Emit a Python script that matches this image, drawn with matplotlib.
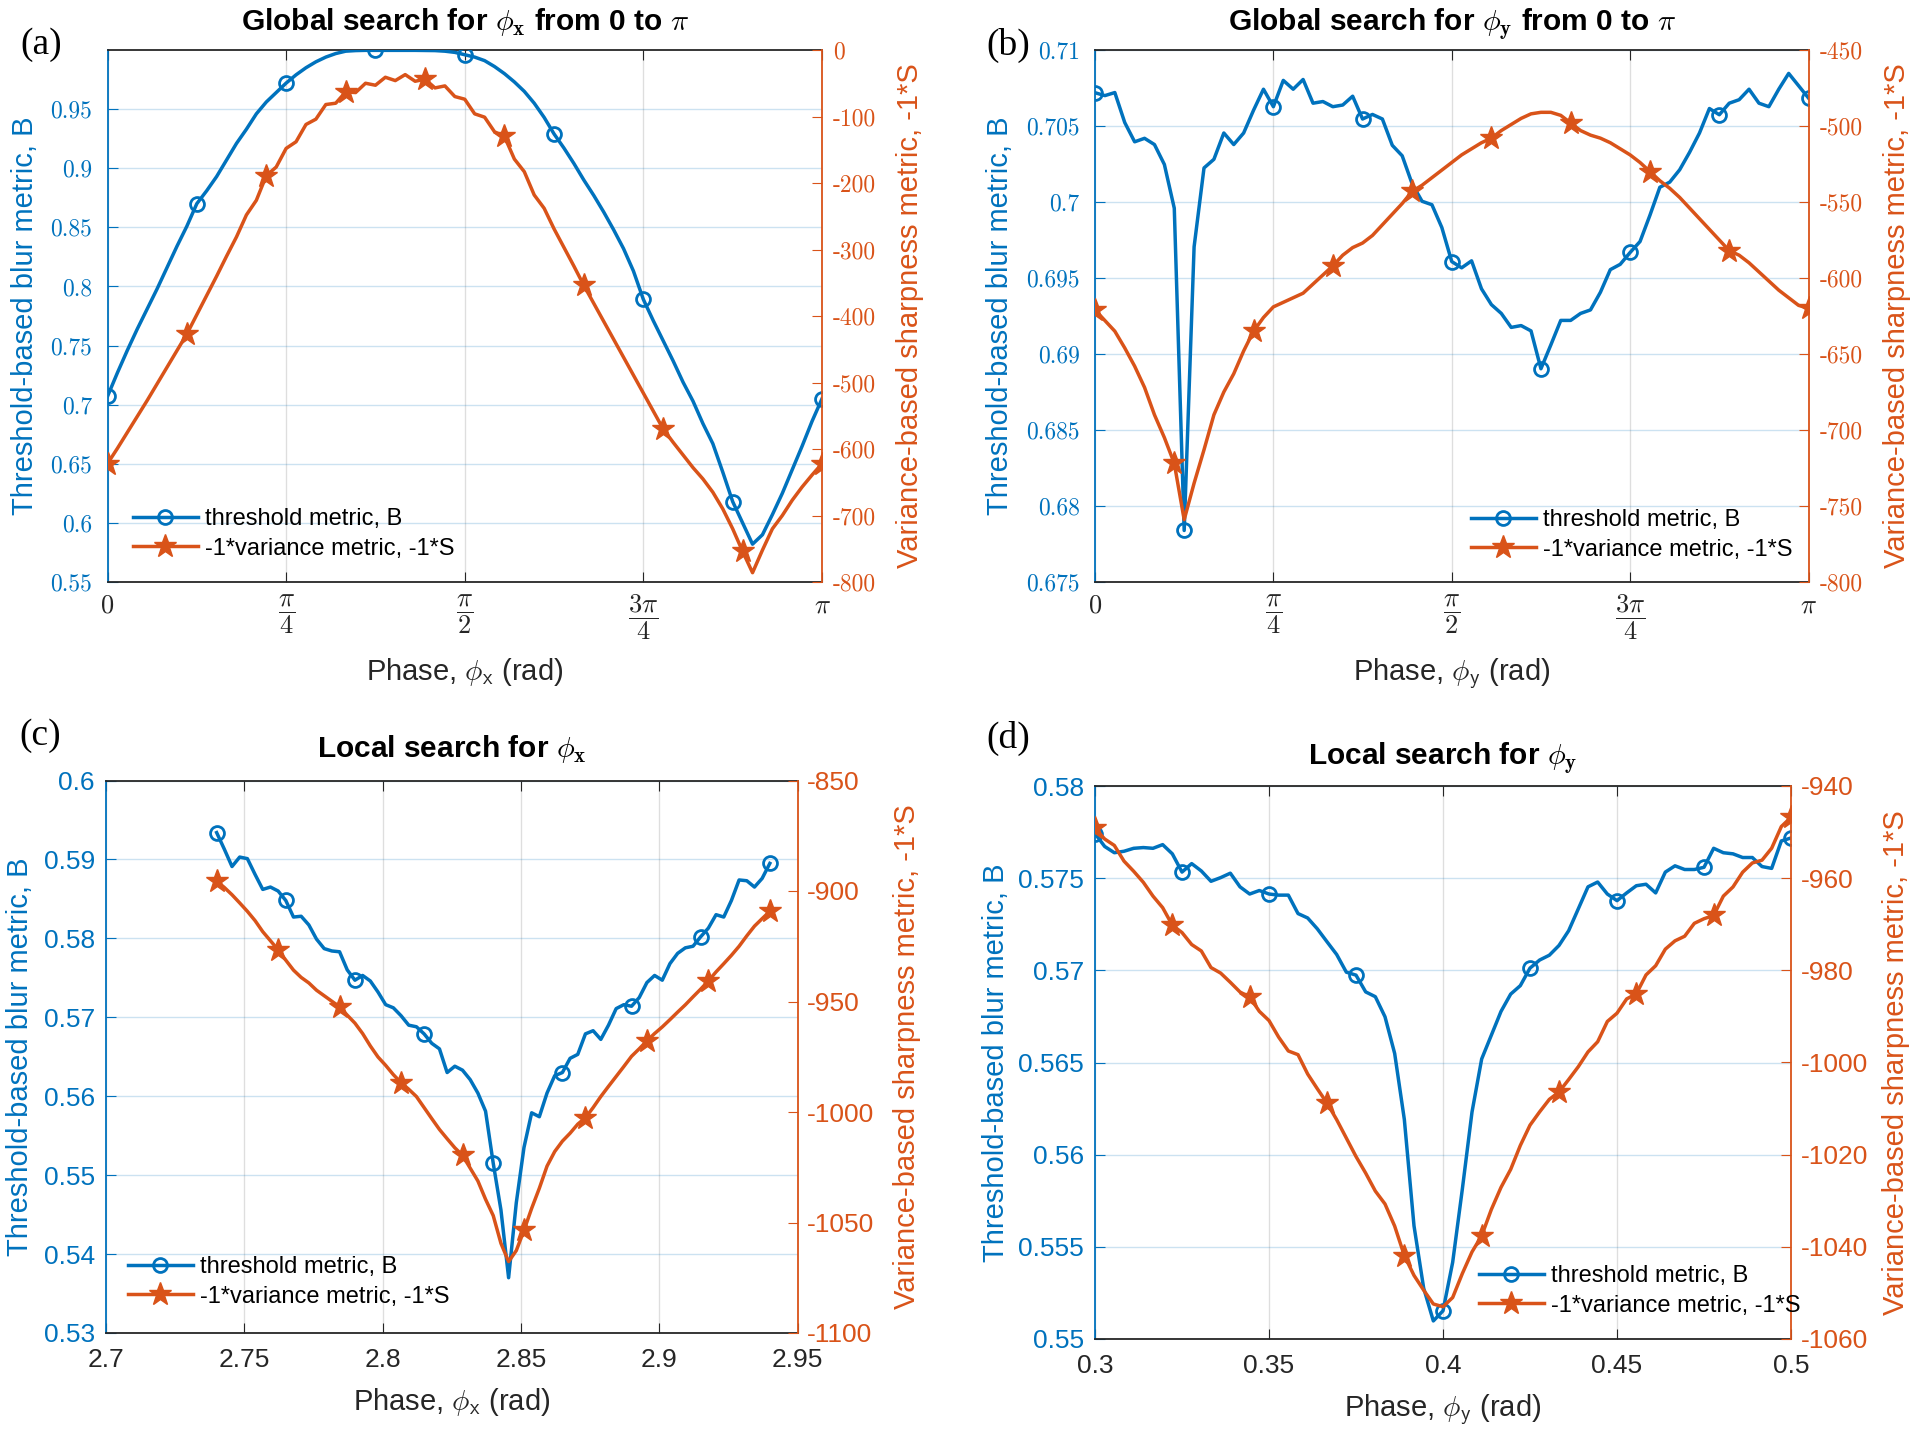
import numpy as np
import matplotlib
matplotlib.use('Agg')
import matplotlib.pyplot as plt
from matplotlib.lines import Line2D

plt.rcParams['font.family'] = ['Liberation Sans', 'DejaVu Sans']
plt.rcParams['mathtext.fontset'] = 'cm'

BLUE = '#0072BD'
ORANGE = '#D95319'
DARK = '#262626'
W, H = 1920, 1442

# ---- data ----
# (a) global search phi_x, 0..pi
a_blue = [0.707, 0.727, 0.746, 0.764, 0.781, 0.798, 0.816, 0.834, 0.851, 0.870,
          0.881, 0.893, 0.907, 0.921, 0.933, 0.946, 0.956, 0.964, 0.972, 0.979,
          0.985, 0.990, 0.994, 0.997, 0.999, 0.9995, 0.9997, 0.9997, 0.9997, 0.9997,
          0.9997, 0.9997, 0.9996, 0.9995, 0.999, 0.998, 0.996, 0.994, 0.991, 0.986,
          0.980, 0.973, 0.965, 0.955, 0.943, 0.929, 0.917, 0.904, 0.890, 0.877,
          0.863, 0.848, 0.832, 0.813, 0.789, 0.771, 0.754, 0.737, 0.719, 0.703,
          0.684, 0.667, 0.643, 0.618, 0.600, 0.582, 0.590, 0.607, 0.625, 0.645,
          0.665, 0.686, 0.705]
a_red = [-622, -599, -575, -551, -527, -502, -477, -452, -427, -398,
         -369, -340, -310, -281, -248, -226, -189, -176, -148, -138,
         -112, -104, -82, -80, -63, -64, -50, -53, -41, -46,
         -37, -47, -44, -57, -54, -70, -74, -96, -101, -123,
         -130, -164, -183, -218, -238, -269, -297, -325, -354, -381,
         -408, -435, -462, -489, -516, -543, -570, -590, -609, -628,
         -645, -665, -690, -720, -754, -786, -752, -720, -700, -677,
         -657, -639, -622]

# (b) global search phi_y, 0..pi
b_blue = [0.70719, 0.7070, 0.7072, 0.70523, 0.70396, 0.70419, 0.70378, 0.70247, 0.69959, 0.67839,
          0.69705, 0.70224, 0.70281, 0.70454, 0.70378, 0.70454, 0.70604, 0.70742, 0.70627, 0.70800,
          0.70742, 0.70806, 0.70650, 0.70661, 0.70627, 0.70638, 0.70696, 0.70546, 0.70576, 0.70546,
          0.70373, 0.70304, 0.70120, 0.70005, 0.69982, 0.69832, 0.69608, 0.69567, 0.69613, 0.69429,
          0.69325, 0.69267, 0.69175, 0.69187, 0.69152, 0.68903, 0.69060, 0.69221, 0.69221, 0.69267,
          0.69290, 0.69406, 0.69555, 0.69590, 0.69668, 0.69740, 0.69913, 0.70097, 0.70131, 0.70212,
          0.70327, 0.70454, 0.70615, 0.70574, 0.70650, 0.70673, 0.70742, 0.70650, 0.70627, 0.70742,
          0.70846, 0.70765, 0.70684]
b_red = [-621, -628, -635, -646, -658, -672, -690, -705, -722, -759,
         -735, -713, -690, -675, -663, -648, -635, -626, -619, -616,
         -613, -610, -604, -598, -592, -585, -580, -577, -572, -565,
         -558, -551, -543, -539, -534, -529, -524, -519, -515, -511,
         -508, -503, -499, -495, -492, -491, -491, -493, -498, -503,
         -506, -508, -511, -515, -519, -524, -530, -536, -541, -547,
         -554, -561, -568, -575, -582, -585, -590, -596, -602, -608,
         -613, -618, -620]

# (c) local search phi_x, 2.74..2.94
c_blue = [0.5934, 0.5913, 0.5891, 0.5903, 0.5901, 0.5881, 0.5862, 0.5865, 0.5860, 0.5848,
          0.5827, 0.5828, 0.5817, 0.5799, 0.5787, 0.5784, 0.5783, 0.5760, 0.5747, 0.5753,
          0.5746, 0.5732, 0.5716, 0.5712, 0.5702, 0.5690, 0.5688, 0.5679, 0.5667, 0.5660,
          0.5630, 0.5638, 0.5633, 0.5621, 0.5604, 0.5581, 0.5515, 0.5456, 0.5370, 0.5465,
          0.5535, 0.5579, 0.5574, 0.5604, 0.5626, 0.5630, 0.5648, 0.5653, 0.5679, 0.5683,
          0.5672, 0.5690, 0.5711, 0.5716, 0.5714, 0.5725, 0.5744, 0.5753, 0.5747, 0.5768,
          0.5781, 0.5788, 0.5790, 0.5802, 0.5813, 0.5830, 0.5827, 0.5848, 0.5874, 0.5873,
          0.5865, 0.5876, 0.5895]
c_red = [-895.5, -898.4, -901.7, -905.4, -909.2, -913.4, -918.4, -922.5, -926.6, -931.3,
         -935.8, -939.1, -941.6, -944.9, -947.4, -949.9, -952.4, -956.2, -959.8, -964.5,
         -970.1, -975.1, -978.9, -983.1, -986.7, -989.7, -993.0, -998.0, -1003.0, -1007.9,
         -1012.1, -1016.2, -1019.6, -1025.4, -1031.2, -1039.5, -1046.9, -1059.4, -1067.7, -1062.7,
         -1053.6, -1043.6, -1034.5, -1024.5, -1017.9, -1013.2, -1009.6, -1005.5, -1002.6, -998.0,
         -993.0, -988.4, -983.9, -979.4, -974.8, -971.4, -967.8, -964.5, -961.5, -958.2,
         -954.8, -951.5, -947.9, -944.4, -940.7, -936.6, -932.9, -929.1, -925.0, -920.3,
         -915.9, -912.5, -909.2]

# (d) local search phi_y, 0.3..0.5
d_blue = [0.57742, 0.57672, 0.57638, 0.57646, 0.57662, 0.57666, 0.57662, 0.57682, 0.57632, 0.57533,
          0.57579, 0.57539, 0.57483, 0.57503, 0.57527, 0.57453, 0.57414, 0.57433, 0.57414, 0.57408,
          0.57408, 0.57308, 0.57284, 0.57225, 0.57155, 0.57086, 0.56990, 0.56974, 0.56883, 0.56857,
          0.56748, 0.56549, 0.56191, 0.55614, 0.55276, 0.55098, 0.55153, 0.55416, 0.55813, 0.56231,
          0.56519, 0.56648, 0.56777, 0.56871, 0.56917, 0.57012, 0.57056, 0.57082, 0.57135, 0.57215,
          0.57334, 0.57453, 0.57479, 0.57414, 0.57378, 0.57420, 0.57459, 0.57467, 0.57420, 0.57533,
          0.57567, 0.57547, 0.57547, 0.57559, 0.57662, 0.57638, 0.57632, 0.57612, 0.57612, 0.57563,
          0.57553, 0.57702, 0.57718]
d_red = [-949.2, -951.5, -952.9, -956.3, -958.5, -960.9, -963.9, -966.4, -970.2, -971.8,
         -974.4, -975.8, -979.4, -980.6, -982.6, -984.7, -985.8, -988.9, -990.9, -994.5,
         -997.5, -998.3, -1002.5, -1005.7, -1008.8, -1012.4, -1016.4, -1020.4, -1024.0, -1027.9,
         -1030.7, -1035.5, -1041.9, -1046.2, -1049.4, -1052.4, -1053.0, -1051.0, -1045.8, -1041.1,
         -1037.6, -1031.9, -1027.1, -1023.2, -1018.0, -1013.6, -1010.7, -1008.0, -1006.4, -1003.7,
         -1000.9, -997.7, -995.5, -991.1, -989.3, -986.2, -985.1, -981.0, -979.0, -975.4,
         -973.6, -972.6, -969.8, -968.8, -968.1, -963.9, -961.9, -958.7, -956.7, -956.1,
         -953.5, -948.8, -946.8]

pi_ticks = [0, np.pi / 4, np.pi / 2, 3 * np.pi / 4, np.pi]
pi_labels = ['$0$', r'$\dfrac{\pi}{4}$', r'$\dfrac{\pi}{2}$', r'$\dfrac{3\pi}{4}$', r'$\pi$']

a_lticks = [0.55, 0.6, 0.65, 0.7, 0.75, 0.8, 0.85, 0.9, 0.95]
a_rticks = [-800, -700, -600, -500, -400, -300, -200, -100, 0]
b_lticks = [0.675, 0.68, 0.685, 0.69, 0.695, 0.7, 0.705, 0.71]
b_rticks = [-800, -750, -700, -650, -600, -550, -500, -450]
c_xticks = [2.7, 2.75, 2.8, 2.85, 2.9, 2.95]
c_lticks = [0.53, 0.54, 0.55, 0.56, 0.57, 0.58, 0.59, 0.6]
c_rticks = [-1100, -1050, -1000, -950, -900, -850]
d_xticks = [0.3, 0.35, 0.4, 0.45, 0.5]
d_lticks = [0.55, 0.555, 0.56, 0.565, 0.57, 0.575, 0.58]
d_rticks = [-1060, -1040, -1020, -1000, -980, -960, -940]

leg_labels = ['threshold metric, B', '-1*variance metric, -1*S']

fig = plt.figure(figsize=(W / 100, H / 100), dpi=100)


def fx(px):
    return px / W


def fy(py):
    return 1 - py / H


def fmt(v):
    s = ('%.3f' % v).rstrip('0').rstrip('.')
    return s


def panel(box, x, blue, red, xlim, ylim_l, ylim_r, xticks, xticklabels,
          lticks, rticks, serif, title, sub, tag, tag_xy, title_y, xlab_y,
          ylab_lx, ylab_rx, leg_xy):
    l, t, r, b = box
    ax = fig.add_axes([fx(l), fy(b), (r - l) / W, (b - t) / H])
    ax2 = ax.twinx()

    ax.plot(x, blue, color=BLUE, lw=2.5, marker='o', markevery=9, ms=10,
            mfc='none', mec=BLUE, mew=2, zorder=3)
    ax2.plot(x, red, color=ORANGE, lw=2.5, marker='*', markevery=8, ms=17,
             mfc=ORANGE, mec=ORANGE, mew=1, zorder=3)

    ax.set_xlim(xlim)
    ax.set_ylim(ylim_l)
    ax2.set_ylim(ylim_r)

    ax.grid(axis='x', color=DARK, alpha=0.15, lw=1)
    ax.grid(axis='y', color=BLUE, alpha=0.2, lw=1)

    for s in ['top', 'bottom']:
        ax.spines[s].set_color(DARK)
        ax2.spines[s].set_visible(False)
    ax.spines['left'].set_color(BLUE)
    ax.spines['right'].set_visible(False)
    ax2.spines['left'].set_visible(False)
    ax2.spines['right'].set_color(ORANGE)
    for sp in list(ax.spines.values()) + list(ax2.spines.values()):
        sp.set_linewidth(1.3)

    ax.set_xticks(xticks)
    ax.set_xticklabels(xticklabels)
    ax.set_yticks(lticks)
    ax.set_yticklabels([fmt(v) for v in lticks])
    ax2.set_yticks(rticks)
    ax2.set_yticklabels([fmt(v) for v in rticks])

    if serif:
        tfs = 17
        ax.tick_params(axis='x', direction='in', top=True, length=7, color=DARK,
                       labelcolor=DARK, labelsize=19, pad=8)
        ax.tick_params(axis='y', direction='in', length=7, colors=BLUE,
                       labelsize=tfs, pad=11)
        ax2.tick_params(axis='y', direction='in', length=7, colors=ORANGE,
                        labelsize=tfs, pad=8)
        for lab in ax.get_yticklabels() + ax2.get_yticklabels():
            lab.set_fontfamily('cmr10')
    else:
        tfs = 19
        ax.tick_params(axis='x', direction='in', top=True, length=7, color=DARK,
                       labelcolor=DARK, labelsize=tfs, pad=11)
        ax.tick_params(axis='y', direction='in', length=7, colors=BLUE,
                       labelsize=tfs, pad=8)
        ax2.tick_params(axis='y', direction='in', length=7, colors=ORANGE,
                        labelsize=tfs, pad=7)

    cx = (l + r) / 2
    cy = (t + b) / 2
    fig.text(fx(cx), fy(title_y), title, ha='center', va='baseline',
             fontsize=21.5, fontweight='bold', color='k')
    fig.text(fx(cx), fy(xlab_y), r'Phase, $\phi_{\mathsf{%s}}$ (rad)' % sub,
             ha='center', va='baseline', fontsize=21, color=DARK)
    fig.text(fx(ylab_lx), fy(cy), 'Threshold-based blur metric, B', rotation=90,
             ha='center', va='center', fontsize=21, color=BLUE)
    fig.text(fx(ylab_rx), fy(cy), 'Variance-based sharpness metric, -1*S',
             rotation=90, ha='center', va='center', fontsize=21, color=ORANGE)
    fig.text(fx(tag_xy[0]), fy(tag_xy[1]), tag, ha='center', va='center',
             fontsize=27, family='Liberation Serif', color='k')

    h1 = Line2D([], [], color=BLUE, lw=2.5, marker='o', ms=10, mfc='none',
                mec=BLUE, mew=2)
    h2 = Line2D([], [], color=ORANGE, lw=2.5, marker='*', ms=17, mfc=ORANGE,
                mec=ORANGE, mew=1)
    ax2.legend([h1, h2], leg_labels, loc='center left',
               bbox_to_anchor=(fx(leg_xy[0]), fy(leg_xy[1])),
               bbox_transform=fig.transFigure, frameon=False, fontsize=17,
               handlelength=2.75, handletextpad=0.3, labelspacing=0.3,
               borderpad=0, borderaxespad=0)
    return ax, ax2


xa = np.linspace(0, np.pi, len(a_blue))
xb = np.linspace(0, np.pi, len(b_blue))
xc = np.linspace(2.74, 2.94, len(c_blue))
xd = np.linspace(0.3, 0.5, len(d_blue))

panel((107.5, 50, 822, 582), xa, a_blue, a_red, (0, np.pi), (0.55, 1.0), (-800, 0),
      pi_ticks, pi_labels, a_lticks, a_rticks, True,
      r'Global search for $\phi_{\mathbf{x}}$ from 0 to $\pi$', 'x', '(a)', (41, 45),
      30, 680, 25, 910, (133, 534))
panel((1095, 50, 1808.5, 582), xb, b_blue, b_red, (0, np.pi), (0.675, 0.71), (-800, -450),
      pi_ticks, pi_labels, b_lticks, b_rticks, True,
      r'Global search for $\phi_{\mathbf{y}}$ from 0 to $\pi$', 'y', '(b)', (1008, 45),
      30, 680, 1000, 1897, (1471, 535))
panel((106, 780.5, 797.5, 1333), xc, c_blue, c_red, (2.7, 2.95), (0.53, 0.6), (-1100, -850),
      c_xticks, [fmt(v) for v in c_xticks], c_lticks, c_rticks, False,
      r'Local search for $\phi_{\mathbf{x}}$', 'x', '(c)', (40, 736),
      757, 1410, 20, 907, (128, 1282))
panel((1095, 786, 1791, 1339), xd, d_blue, d_red, (0.3, 0.5), (0.55, 0.58), (-1060, -940),
      d_xticks, [fmt(v) for v in d_xticks], d_lticks, d_rticks, False,
      r'Local search for $\phi_{\mathbf{y}}$', 'y', '(d)', (1008, 738),
      764, 1416, 996, 1896, (1479, 1291))

fig.savefig('out.png', dpi=100)
